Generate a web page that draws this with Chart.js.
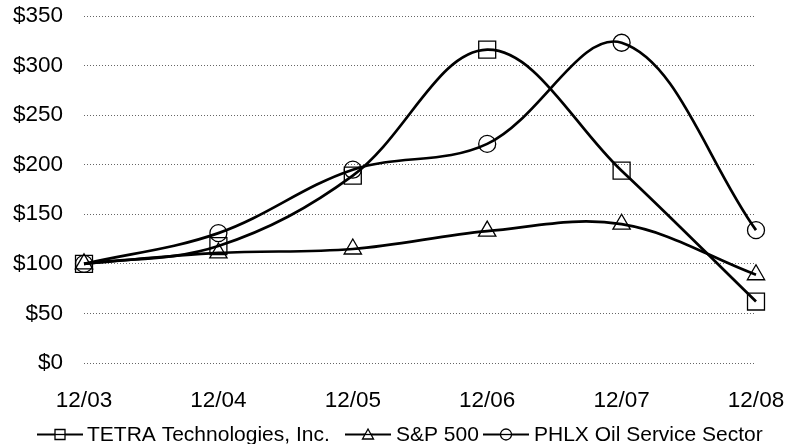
<!DOCTYPE html>
<html><head><meta charset="utf-8">
<script src="https://cdn.jsdelivr.net/npm/chart.js@4"></script>
<style>html,body{margin:0;padding:0;background:#fff}#w{width:786px;height:444px}</style>
</head><body><div id="w"><canvas id="c" width="786" height="444"></canvas></div>
<script>
const categories = ['12/03','12/04','12/05','12/06','12/07','12/08'];
const tetra = [100,118,189,316,194,62];
const sp500 = [100,111,115,133,140,89];
const phlx  = [100,131,195,221,323,134];
const seriesNames = ['TETRA Technologies, Inc.','S&P 500','PHLX Oil Service Sector'];
const yTickValues = [0,50,100,150,200,250,300,350];

const FONT = '"Liberation Sans", Arial, sans-serif';
const styles = ['rect','triangle','circle'];
const radii = [12,10,8.5];

function drawIcon(g, kind, x, y){
  g.save();
  g.strokeStyle = '#000';
  g.lineWidth = 2;
  g.beginPath(); g.moveTo(x,y); g.lineTo(x+46,y); g.stroke();
  const cx = x+23;
  g.lineWidth = 1.3;
  g.fillStyle = '#fff';
  g.beginPath();
  if (kind==='rect'){ g.rect(cx-5,y-5,10,10); }
  else if (kind==='triangle'){ g.moveTo(cx,y-5.5); g.lineTo(cx+5.5,y+4.5); g.lineTo(cx-5.5,y+4.5); g.closePath(); }
  else { g.arc(cx,y,5.5,0,Math.PI*2); }
  g.fill(); g.stroke();
  g.beginPath(); g.moveTo(cx-5,y); g.lineTo(cx+5,y); g.stroke();
  g.restore();
}

const legendIconX = [37, 345, 483];
const legendTextX = [87, 396, 534];
const customLegend = {
  id: 'customLegend',
  afterDraw(chart){
    const g = chart.ctx;
    g.save();
    g.font = '21px ' + FONT;
    g.fillStyle = '#000';
    g.textBaseline = 'alphabetic';
    chart.data.datasets.forEach((ds,i)=>{
      drawIcon(g, styles[i], legendIconX[i], 434.5);
      g.fillText(ds.label, legendTextX[i], 441);
    });
    g.restore();
  }
};

const seriesData = [tetra, sp500, phlx];
const datasets = seriesData.map((d,i)=>({
  label: seriesNames[i],
  data: d,
  borderColor: '#000',
  borderWidth: 2.7,
  backgroundColor: 'transparent',
  pointStyle: styles[i],
  pointRadius: radii[i],
  pointBorderWidth: 1.3,
  pointBorderColor: '#000',
  pointBackgroundColor: 'transparent',
  tension: 0.36,
  clip: false,
  fill: false
}));

new Chart(document.getElementById('c'), {
  type: 'line',
  data: { labels: categories, datasets },
  options: {
    responsive: false,
    animation: false,
    devicePixelRatio: 1,
    layout: { padding: { left: 0, right: 30, top: 16, bottom: 0 } },
    plugins: {
      tooltip: { enabled: false },
      legend: { display: false }
    },
    scales: {
      x: {
        grid: { display: false, drawTicks: false },
        border: { display: false },
        ticks: { color: '#000', font: { family: FONT, size: 22.5 }, padding: 24, maxRotation: 0, autoSkip: false },
        afterFit(scale){
          scale.paddingLeft = 0; scale.paddingRight = 0;
          scale.height = 444 - 363;
        }
      },
      y: {
        min: 0, max: 350,
        afterBuildTicks(scale){ scale.ticks = yTickValues.map(v=>({value:v})); },
        grid: { color: 'rgba(0,0,0,0.6)', lineWidth: 1, drawTicks: false },
        border: { display: false, dash: [1,2] },
        ticks: { color: '#000', font: { family: FONT, size: 22.5 }, padding: 21, callback: v => '$' + v },
        afterFit(scale){ scale.width = 84; scale.paddingTop = 0; scale.paddingBottom = 0; }
      }
    }
  },
  plugins: [customLegend]
});
</script>
</body></html>
